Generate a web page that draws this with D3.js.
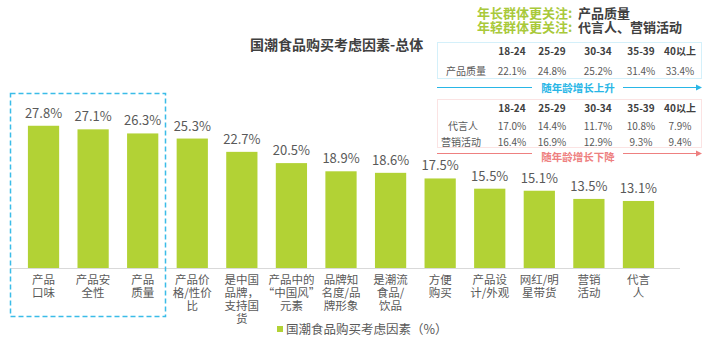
<!DOCTYPE html>
<html><head><meta charset="utf-8">
<script src="https://cdn.jsdelivr.net/npm/d3@7/dist/d3.min.js"></script>
<style>body{margin:0;background:#fff;}svg{display:block;font-family:"Noto Sans CJK SC","Noto Sans",sans-serif;}</style>
</head><body><svg id="c" width="714" height="341"></svg>
<script>
const categories = [
  ["产品","口味"],["产品安","全性"],["产品","质量"],["产品价","格/性价","比"],
  ["是中国","品牌，","支持国","货"],["产品中的","“中国风”","元素"],["品牌知","名度/品","牌形象"],
  ["是潮流","食品/","饮品"],["方便","购买"],["产品设","计/外观"],["网红/明","星带货"],["营销","活动"],["代言","人"]
];
const values = [27.8,27.1,26.3,25.3,22.7,20.5,18.9,18.6,17.5,15.5,15.1,13.5,13.1];
const ageGroups = ["18-24","25-29","30-34","35-39","40以上"];
const qualityRow = ["22.1%","24.8%","25.2%","31.4%","33.4%"];
const spokesRow = ["17.0%","14.4%","11.7%","10.8%","7.9%"];
const marketingRow = ["16.4%","16.9%","12.9%","9.3%","9.4%"];
const title = "国潮食品购买考虑因素-总体";
const legendLabel = "国潮食品购买考虑因素（%）";

const svg = d3.select("#c");
const green = "#b2d235";
const x = d3.scaleBand().domain(d3.range(values.length)).range([18, 664]).paddingInner(0.37).paddingOuter(0.2);
const y = d3.scaleLinear().domain([0, 30]).range([268, 114.5]);

// axis line
svg.append("line").attr("x1",10).attr("x2",680).attr("y1",268.5).attr("y2",268.5).attr("stroke","#d9d9d9");

svg.selectAll("rect.bar").data(values).join("rect").attr("class","bar")
  .attr("x",(d,i)=>x(i)).attr("width",x.bandwidth())
  .attr("y",d=>y(d)).attr("height",d=>y(0)-y(d)).attr("fill",green);

svg.selectAll("text.val").data(values).join("text").attr("class","val")
  .attr("x",(d,i)=>x(i)+x.bandwidth()/2).attr("y",d=>y(d)-8)
  .attr("text-anchor","middle").attr("font-size",13).attr("fill","#595959")
  .text(d=>d.toFixed(1)+"%");

const cg = svg.selectAll("g.cat").data(categories).join("g").attr("class","cat")
  .attr("transform",(d,i)=>`translate(${x(i)+x.bandwidth()/2},0)`);
cg.selectAll("text").data(d=>d).join("text")
  .attr("x",0).attr("y",(d,j)=>284+j*13).attr("text-anchor","middle")
  .attr("font-size",11.5).attr("fill","#595959").text(d=>d);

// dashed highlight box
svg.append("rect").attr("x",10.5).attr("y",93.5).attr("width",155).attr("height",223)
  .attr("fill","none").attr("stroke","#3bbce8").attr("stroke-width",1.5).attr("stroke-dasharray","5,3");

// legend
svg.append("rect").attr("x",277).attr("y",326).attr("width",6).attr("height",6).attr("fill",green);
svg.append("text").attr("x",286).attr("y",334).attr("font-size",12.5).attr("fill","#595959").text(legendLabel);

// title
svg.append("text").attr("x",250).attr("y",50).attr("font-size",14).attr("font-weight","bold").attr("fill","#404040").text(title);

// top-right notes
const noteGreen = "#a9c93a";
[["年长群体更关注","产品质量",18],["年轻群体更关注","代言人、营销活动",32]].forEach(([a,b,yy])=>{
  svg.append("text").attr("x",477).attr("y",yy).attr("font-size",13).attr("font-weight","bold").attr("fill",noteGreen).text(a);
  svg.append("text").attr("x",568).attr("y",yy).attr("font-size",13).attr("font-weight","bold").attr("fill",noteGreen).text(":");
  svg.append("text").attr("x",578).attr("y",yy).attr("font-size",13).attr("font-weight","bold").attr("fill","#404040").text(b);
});

const colX = [512,552,598,641,680];
// table 1
svg.append("rect").attr("x",437.5).attr("y",42.5).attr("width",264).attr("height",36).attr("fill","none").attr("stroke","#d4f0fa");
svg.selectAll("text.h1").data(ageGroups).join("text").attr("class","h1")
  .attr("x",(d,i)=>colX[i]).attr("y",55).attr("text-anchor","middle").attr("font-size",10).attr("font-weight","bold").attr("fill","#404040").text(d=>d);
svg.append("text").attr("x",466).attr("y",75).attr("text-anchor","middle").attr("font-size",10).attr("fill","#595959").text("产品质量");
svg.selectAll("text.r1").data(qualityRow).join("text").attr("class","r1")
  .attr("x",(d,i)=>colX[i]).attr("y",75).attr("text-anchor","middle").attr("font-size",10).attr("fill","#595959").text(d=>d);

// arrow 1
const cyan = "#29b6e6";
svg.append("line").attr("x1",437).attr("x2",532).attr("y1",87.5).attr("y2",87.5).attr("stroke",cyan);
svg.append("line").attr("x1",623).attr("x2",698).attr("y1",87.5).attr("y2",87.5).attr("stroke",cyan);
svg.append("path").attr("d","M696,84.5 L702,87.5 L696,90.5 Z").attr("fill",cyan);
svg.append("text").attr("x",578).attr("y",91.5).attr("text-anchor","middle").attr("font-size",10.5).attr("font-weight","bold").attr("fill",cyan).text("随年龄增长上升");

// table 2
svg.append("rect").attr("x",437.5).attr("y",99.5).attr("width",264).attr("height",48).attr("fill","none").attr("stroke","#fbe3e3");
svg.selectAll("text.h2").data(ageGroups).join("text").attr("class","h2")
  .attr("x",(d,i)=>colX[i]).attr("y",112).attr("text-anchor","middle").attr("font-size",10).attr("font-weight","bold").attr("fill","#404040").text(d=>d);
svg.append("text").attr("x",463).attr("y",130).attr("text-anchor","middle").attr("font-size",10).attr("fill","#595959").text("代言人");
svg.append("text").attr("x",461).attr("y",146).attr("text-anchor","middle").attr("font-size",10).attr("fill","#595959").text("营销活动");
svg.selectAll("text.r2").data(spokesRow).join("text").attr("class","r2")
  .attr("x",(d,i)=>colX[i]).attr("y",130).attr("text-anchor","middle").attr("font-size",10).attr("fill","#595959").text(d=>d);
svg.selectAll("text.r3").data(marketingRow).join("text").attr("class","r3")
  .attr("x",(d,i)=>colX[i]).attr("y",146).attr("text-anchor","middle").attr("font-size",10).attr("fill","#595959").text(d=>d);

// arrow 2
const pink = "#ee8080";
svg.append("line").attr("x1",437).attr("x2",532).attr("y1",153.5).attr("y2",153.5).attr("stroke",pink);
svg.append("line").attr("x1",623).attr("x2",698).attr("y1",153.5).attr("y2",153.5).attr("stroke",pink);
svg.append("path").attr("d","M696,150.5 L702,153.5 L696,156.5 Z").attr("fill",pink);
svg.append("text").attr("x",578).attr("y",161).attr("text-anchor","middle").attr("font-size",10.5).attr("font-weight","bold").attr("fill",pink).text("随年龄增长下降");
</script></body></html>
